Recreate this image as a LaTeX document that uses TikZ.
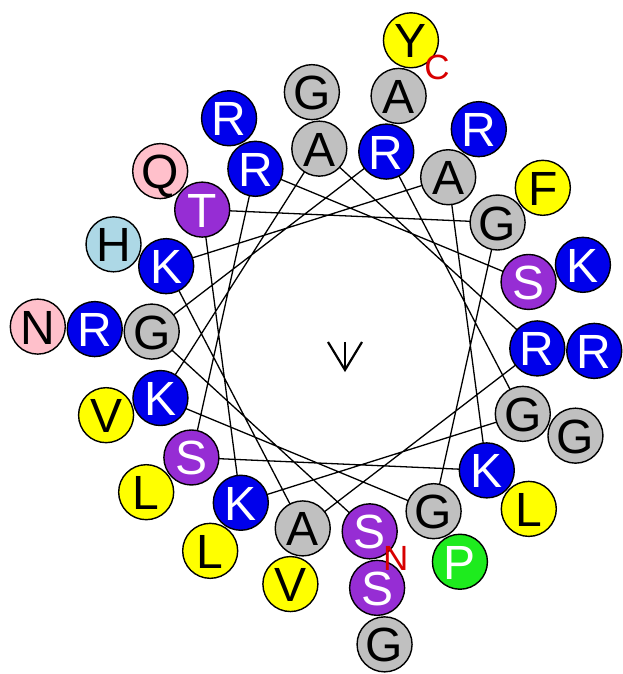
\documentclass[tikz,border=0pt]{standalone}
\usepackage{fontspec}
\setmainfont{Liberation Sans}
\usepackage{xcolor}
\usepackage{tikz}
\usetikzlibrary{backgrounds}

\definecolor{aablue}{RGB}{0,0,235}
\definecolor{aagrey}{RGB}{192,192,192}
\definecolor{aapurple}{RGB}{150,45,212}
\definecolor{aayellow}{RGB}{255,255,0}
\definecolor{aapink}{RGB}{255,192,203}
\definecolor{aalightblue}{RGB}{173,216,230}
\definecolor{aagreen}{RGB}{30,235,30}
\definecolor{termred}{RGB}{215,0,0}

\begin{document}
\begin{tikzpicture}[x=1pt, y=1pt,
    aa/.style={circle, draw=black, line width=1.4pt, minimum size=55pt, inner sep=0pt, font=\fontsize{48}{48}\selectfont, text height=35pt, text depth=0pt},
    basic aa/.style={aa, fill=aablue, text=white},
    polar aa/.style={aa, fill=aapurple, text=white},
    small aa/.style={aa, fill=aagrey, text=black},
    apolar aa/.style={aa, fill=aayellow, text=black},
    amide aa/.style={aa, fill=aapink, text=black},
    his aa/.style={aa, fill=aalightblue, text=black},
    pro aa/.style={aa, fill=aagreen, text=white},
    terminus/.style={text=termred, font=\fontsize{35}{35}\selectfont, inner sep=0pt},
    chord/.style={draw=black, line width=1.3pt},
    moment/.style={draw=black, line width=2.2pt}
    ]
    \useasboundingbox (-344.5,-334) rectangle (277.5,340);

    % first turn
    \node[polar aa] (r1) at (-82.5:193) {S};
    \node[small aa] (r2) at (177.5:193) {G};
    \node[basic aa] (r3) at (77.5:193) {R};
    \node[small aa] (r4) at (-22.5:193) {G};
    \node[basic aa] (r5) at (-122.5:193) {K};
    \node[polar aa] (r6) at (137.5:193) {T};
    \node[small aa] (r7) at (37.5:193) {G};
    \node[small aa] (r8) at (-62.5:193) {G};
    \node[basic aa] (r9) at (-162.5:193) {K};
    \node[small aa] (r10) at (97.5:193) {A};
    \node[basic aa] (r11) at (-2.5:193) {R};
    \node[small aa] (r12) at (-102.5:193) {A};
    \node[basic aa] (r13) at (157.5:193) {K};
    \node[small aa] (r14) at (57.5:193) {A};
    \node[basic aa] (r15) at (-42.5:193) {K};
    \node[polar aa] (r16) at (-142.5:193) {S};
    \node[basic aa] (r17) at (117.5:193) {R};
    \node[polar aa] (r18) at (17.5:193) {S};

    % second turn
    \node[polar aa] (r19) at (-82.5:250) {S};
    \node[basic aa] (r20) at (177.5:250) {R};
    \node[small aa] (r21) at (77.5:250) {A};
    \node[small aa] (r22) at (-22.5:250) {G};
    \node[apolar aa] (r23) at (-122.5:250) {L};
    \node[amide aa] (r24) at (137.5:250) {Q};
    \node[apolar aa] (r25) at (37.5:250) {F};
    \node[pro aa] (r26) at (-62.5:250) {P};
    \node[apolar aa] (r27) at (-162.5:250) {V};
    \node[small aa] (r28) at (97.5:250) {G};
    \node[basic aa] (r29) at (-2.5:250) {R};
    \node[apolar aa] (r30) at (-102.5:250) {V};
    \node[his aa] (r31) at (157.5:250) {H};
    \node[basic aa] (r32) at (57.5:250) {R};
    \node[apolar aa] (r33) at (-42.5:250) {L};
    \node[apolar aa] (r34) at (-142.5:250) {L};
    \node[basic aa] (r35) at (117.5:250) {R};
    \node[basic aa] (r36) at (17.5:250) {K};

    % third turn
    \node[small aa] (r37) at (-82.5:307) {G};
    \node[amide aa] (r38) at (177.5:307) {N};
    \node[apolar aa] (r39) at (77.5:307) {Y};

    \node[terminus] (nterm) at ([shift={(26,-27)}]r1) {N};
    \node[terminus] (cterm) at ([shift={(26,-27)}]r39) {C};

    \begin{scope}[on background layer]
      \draw[chord] (r1.center) -- (r2.center) -- (r3.center) -- (r4.center) -- (r5.center) -- (r6.center)
        -- (r7.center) -- (r8.center) -- (r9.center) -- (r10.center) -- (r11.center) -- (r12.center)
        -- (r13.center) -- (r14.center) -- (r15.center) -- (r16.center) -- (r17.center) -- (r18.center);
    \end{scope}

    % hydrophobic moment
    \coordinate (mtail) at (0.5,-2);
    \coordinate (mtip) at (0.5,-30);
    \draw[moment] (mtail) -- (mtip);
    \draw[moment, line join=miter] ([xshift=-17pt]mtail) -- (mtip) -- ([xshift=17pt]mtail);
  \end{tikzpicture}
\end{document}
